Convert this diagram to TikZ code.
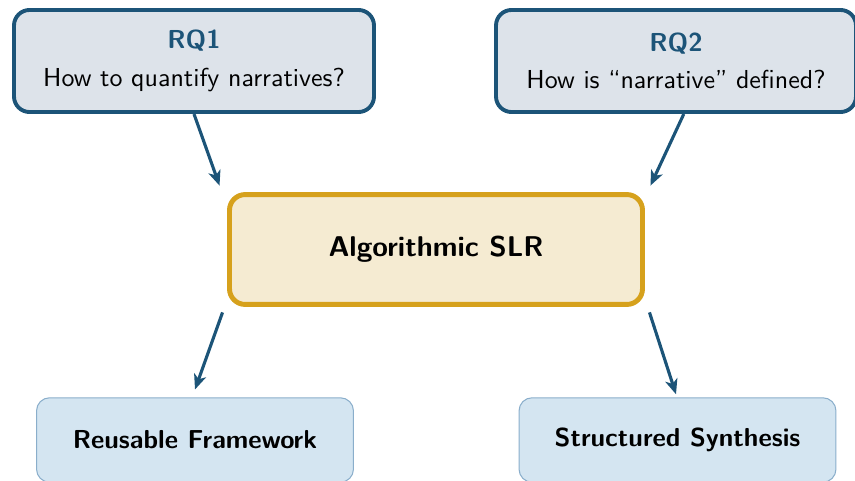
\documentclass[tikz,border=0pt]{standalone}
\usetikzlibrary{arrows.meta}
\definecolor{rqblue}{RGB}{28,84,120}
\definecolor{rqfill}{RGB}{221,227,234}
\definecolor{slrgold}{RGB}{214,161,28}
\definecolor{slrfill}{RGB}{245,235,210}
\definecolor{outfill}{RGB}{212,229,241}
\definecolor{outdraw}{RGB}{138,174,203}
\begin{document}
\begin{tikzpicture}[x=0.385pt, y=0.385pt, font=\sffamily,
        rqbox/.style={draw=rqblue, fill=rqfill, line width=1.5pt, rounded corners=6pt,
            minimum width=138.6pt, minimum height=39.3pt, align=center},
        slrbox/.style={draw=slrgold, fill=slrfill, line width=1.9pt, rounded corners=6pt,
            minimum width=159pt, minimum height=42.3pt, font=\sffamily\bfseries\fontsize{11}{13}\selectfont},
        outbox/.style={draw=outdraw, fill=outfill, line width=0.4pt, rounded corners=5pt,
            minimum width=122pt, minimum height=32.5pt, font=\sffamily\bfseries},
        arrow/.style={-{Stealth[length=5.8pt, width=4.8pt, inset=1.6pt]}, line width=1.2pt, rqblue}]
        \useasboundingbox (0,0) rectangle (855,480);
        \node[rqbox] (rq1) at (194,419) {{\bfseries\color{rqblue}RQ1}\\[2.5pt]How to quantify narratives?};
        \node[rqbox] (rq2) at (676,419) {{\bfseries\color{rqblue}RQ2}\\[2.5pt]How is ``narrative'' defined?};
        \node[slrbox] (slr) at (436,230.5) {Algorithmic SLR};
        \node[outbox] (fw) at (195,40) {Reusable Framework};
        \node[outbox] (ss) at (677.5,40) {Structured Synthesis};
        \draw[arrow] (rq1.south) -- ([shift={(-7.5,6.5)}]slr.north west);
        \draw[arrow] ([xshift=3]rq2.south) -- ([shift={(5.5,6.5)}]slr.north east);
        \draw[arrow] ([shift={(-4.5,-5.5)}]slr.south west) -- ([yshift=3]fw.north);
        \draw[arrow] ([shift={(4.5,-5.5)}]slr.south east) -- ([shift={(-1.5,3)}]ss.north);
    \end{tikzpicture}
\end{document}
